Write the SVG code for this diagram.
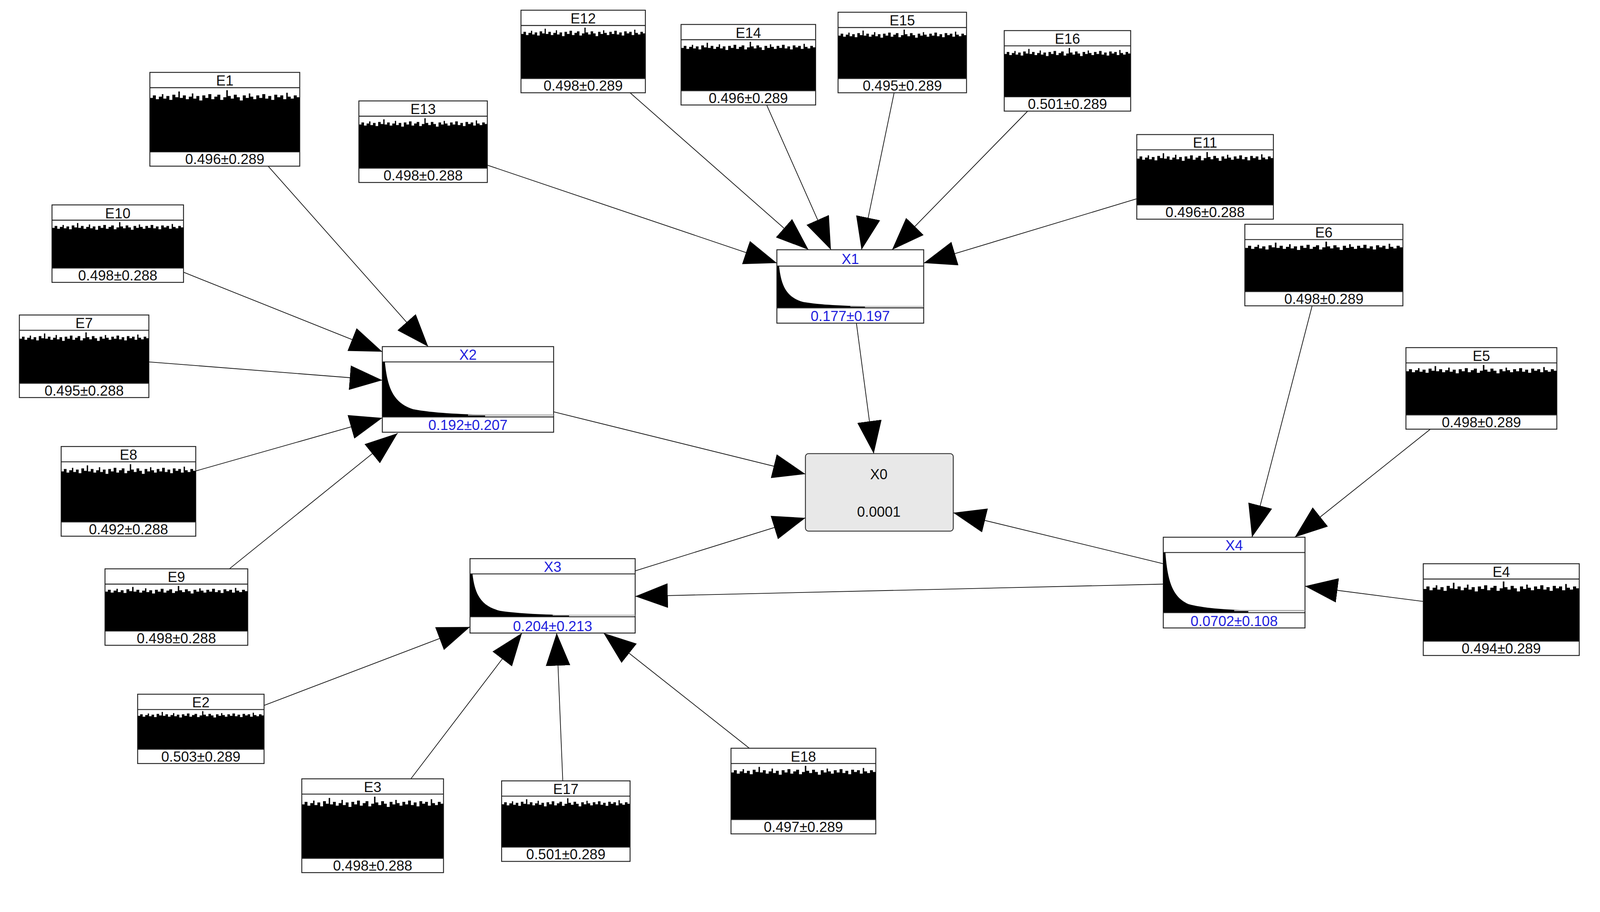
<svg xmlns="http://www.w3.org/2000/svg" width="4205" height="2335" viewBox="0 0 4205 2335">
<style>
.b{fill:#fff;stroke:#222;stroke-width:0.9}
.t{font-family:"Liberation Sans",Arial,sans-serif;font-size:14px;fill:#111;text-anchor:middle}
.x{fill:#2222dd}
.e{stroke:#111;stroke-width:0.7;fill:none;marker-end:url(#ah)}
</style>
<defs>
<marker id="ah" markerUnits="userSpaceOnUse" markerWidth="34" markerHeight="26" refX="32" refY="12" orient="auto" viewBox="0 0 34 24"><path d="M0,0 L32,12 L0,24 Z" fill="#000"/></marker>
<symbol id="u" viewBox="0 0 100 100" preserveAspectRatio="none"><path fill="#000" d="M0,100 V16 H2 V12 H4 V18 H6 V14 H8 V10 H9 V17 H11 V13 H13 V19 H15 V11 H17 V15 H19 V6 H20 V16 H22 V12 H24 V18 H26 V14 H28 V9 H29 V17 H31 V13 H33 V20 H35 V12 H37 V16 H39 V10 H41 V18 H43 V14 H45 V11 H47 V19 H49 V15 H51 V4 H52 V13 H54 V17 H56 V11 H58 V15 H60 V20 H62 V12 H64 V16 H66 V9 H67 V14 H69 V18 H71 V12 H73 V16 H75 V10 H77 V17 H79 V13 H81 V19 H83 V11 H85 V15 H87 V12 H89 V18 H91 V8 H92 V14 H94 V17 H96 V12 H98 V15 H100 V100 Z"/></symbol>
<symbol id="d" viewBox="0 0 100 100" preserveAspectRatio="none"><path fill="#000" d="M0,100 V0 H1.5 C3,50 7,75 18,86 C30,93 45,95 60,96 L60,100 Z"/><path d="M50,96.5 H100" stroke="#aaa" stroke-width="2"/></symbol>
</defs>
<rect width="4205" height="2335" fill="#fff"/>
<g transform="scale(2.61)">
<g id="connectors">
<line class="e" x1="263" y1="163" x2="420" y2="340"/>
<line class="e" x1="180" y1="267" x2="375" y2="345"/>
<line class="e" x1="146" y1="355" x2="375" y2="373"/>
<line class="e" x1="192" y1="462" x2="375" y2="410"/>
<line class="e" x1="225" y1="558" x2="390" y2="425"/>
<line class="e" x1="478" y1="162" x2="762" y2="258"/>
<line class="e" x1="618" y1="91" x2="793" y2="245"/>
<line class="e" x1="752" y1="103" x2="815" y2="245"/>
<line class="e" x1="877" y1="91" x2="845" y2="245"/>
<line class="e" x1="1008" y1="109" x2="875" y2="245"/>
<line class="e" x1="1115" y1="195" x2="906" y2="258"/>
<line class="e" x1="840" y1="317" x2="857" y2="445"/>
<line class="e" x1="543" y1="404" x2="790" y2="465"/>
<line class="e" x1="623" y1="560" x2="790" y2="508"/>
<line class="e" x1="1141" y1="553" x2="935" y2="503"/>
<line class="e" x1="1141" y1="573" x2="623" y2="585"/>
<line class="e" x1="1287" y1="300" x2="1228" y2="527"/>
<line class="e" x1="1403" y1="421" x2="1270" y2="527"/>
<line class="e" x1="1396" y1="590" x2="1280" y2="575"/>
<line class="e" x1="259" y1="692" x2="461" y2="615"/>
<line class="e" x1="403" y1="764" x2="512" y2="621"/>
<line class="e" x1="552" y1="766" x2="546" y2="621"/>
<line class="e" x1="735" y1="734" x2="592" y2="621"/>
</g>
<g id="E1"><rect class="b" x="147" y="71" width="147" height="92"/><line class="b" x1="147" y1="86" x2="294" y2="86"/><use href="#u" x="147" y="86" width="147" height="63"/><line class="b" x1="147" y1="149" x2="294" y2="149"/><text class="t" x="220.5" y="84">E1</text><text class="t" x="220.5" y="161">0.496±0.289</text></g>
<g id="E13"><rect class="b" x="352" y="99" width="126" height="80"/><line class="b" x1="352" y1="114" x2="478" y2="114"/><use href="#u" x="352" y="114" width="126" height="51"/><line class="b" x1="352" y1="165" x2="478" y2="165"/><text class="t" x="415" y="112">E13</text><text class="t" x="415" y="177">0.498±0.288</text></g>
<g id="E12"><rect class="b" x="511" y="10" width="122" height="81"/><line class="b" x1="511" y1="25" x2="633" y2="25"/><use href="#u" x="511" y="25" width="122" height="52"/><line class="b" x1="511" y1="77" x2="633" y2="77"/><text class="t" x="572" y="23">E12</text><text class="t" x="572" y="89">0.498±0.289</text></g>
<g id="E14"><rect class="b" x="668" y="24" width="132" height="79"/><line class="b" x1="668" y1="39" x2="800" y2="39"/><use href="#u" x="668" y="39" width="132" height="50"/><line class="b" x1="668" y1="89" x2="800" y2="89"/><text class="t" x="734" y="37">E14</text><text class="t" x="734" y="101">0.496±0.289</text></g>
<g id="E15"><rect class="b" x="822" y="12" width="126" height="79"/><line class="b" x1="822" y1="27" x2="948" y2="27"/><use href="#u" x="822" y="27" width="126" height="50"/><line class="b" x1="822" y1="77" x2="948" y2="77"/><text class="t" x="885" y="25">E15</text><text class="t" x="885" y="89">0.495±0.289</text></g>
<g id="E16"><rect class="b" x="985" y="30" width="124" height="79"/><line class="b" x1="985" y1="45" x2="1109" y2="45"/><use href="#u" x="985" y="45" width="124" height="50"/><line class="b" x1="985" y1="95" x2="1109" y2="95"/><text class="t" x="1047" y="43">E16</text><text class="t" x="1047" y="107">0.501±0.289</text></g>
<g id="E11"><rect class="b" x="1115" y="132" width="134" height="83"/><line class="b" x1="1115" y1="147" x2="1249" y2="147"/><use href="#u" x="1115" y="147" width="134" height="54"/><line class="b" x1="1115" y1="201" x2="1249" y2="201"/><text class="t" x="1182" y="145">E11</text><text class="t" x="1182" y="213">0.496±0.288</text></g>
<g id="E10"><rect class="b" x="51" y="201" width="129" height="76"/><line class="b" x1="51" y1="216" x2="180" y2="216"/><use href="#u" x="51" y="216" width="129" height="47"/><line class="b" x1="51" y1="263" x2="180" y2="263"/><text class="t" x="115.5" y="214">E10</text><text class="t" x="115.5" y="275">0.498±0.288</text></g>
<g id="E7"><rect class="b" x="19" y="309" width="127" height="81"/><line class="b" x1="19" y1="324" x2="146" y2="324"/><use href="#u" x="19" y="324" width="127" height="52"/><line class="b" x1="19" y1="376" x2="146" y2="376"/><text class="t" x="82.5" y="322">E7</text><text class="t" x="82.5" y="388">0.495±0.288</text></g>
<g id="E8"><rect class="b" x="60" y="438" width="132" height="88"/><line class="b" x1="60" y1="453" x2="192" y2="453"/><use href="#u" x="60" y="453" width="132" height="59"/><line class="b" x1="60" y1="512" x2="192" y2="512"/><text class="t" x="126" y="451">E8</text><text class="t" x="126" y="524">0.492±0.288</text></g>
<g id="E9"><rect class="b" x="103" y="558" width="140" height="75"/><line class="b" x1="103" y1="573" x2="243" y2="573"/><use href="#u" x="103" y="573" width="140" height="46"/><line class="b" x1="103" y1="619" x2="243" y2="619"/><text class="t" x="173" y="571">E9</text><text class="t" x="173" y="631">0.498±0.288</text></g>
<g id="E6"><rect class="b" x="1221" y="220" width="155" height="80"/><line class="b" x1="1221" y1="235" x2="1376" y2="235"/><use href="#u" x="1221" y="235" width="155" height="51"/><line class="b" x1="1221" y1="286" x2="1376" y2="286"/><text class="t" x="1298.5" y="233">E6</text><text class="t" x="1298.5" y="298">0.498±0.289</text></g>
<g id="E5"><rect class="b" x="1379" y="341" width="148" height="80"/><line class="b" x1="1379" y1="356" x2="1527" y2="356"/><use href="#u" x="1379" y="356" width="148" height="51"/><line class="b" x1="1379" y1="407" x2="1527" y2="407"/><text class="t" x="1453" y="354">E5</text><text class="t" x="1453" y="419">0.498±0.289</text></g>
<g id="E4"><rect class="b" x="1396" y="553" width="153" height="90"/><line class="b" x1="1396" y1="568" x2="1549" y2="568"/><use href="#u" x="1396" y="568" width="153" height="61"/><line class="b" x1="1396" y1="629" x2="1549" y2="629"/><text class="t" x="1472.5" y="566">E4</text><text class="t" x="1472.5" y="641">0.494±0.289</text></g>
<g id="E2"><rect class="b" x="135" y="681" width="124" height="68"/><line class="b" x1="135" y1="696" x2="259" y2="696"/><use href="#u" x="135" y="696" width="124" height="39"/><line class="b" x1="135" y1="735" x2="259" y2="735"/><text class="t" x="197" y="694">E2</text><text class="t" x="197" y="747">0.503±0.289</text></g>
<g id="E3"><rect class="b" x="296" y="764" width="139" height="92"/><line class="b" x1="296" y1="779" x2="435" y2="779"/><use href="#u" x="296" y="779" width="139" height="63"/><line class="b" x1="296" y1="842" x2="435" y2="842"/><text class="t" x="365.5" y="777">E3</text><text class="t" x="365.5" y="854">0.498±0.288</text></g>
<g id="E17"><rect class="b" x="492" y="766" width="126" height="79"/><line class="b" x1="492" y1="781" x2="618" y2="781"/><use href="#u" x="492" y="781" width="126" height="50"/><line class="b" x1="492" y1="831" x2="618" y2="831"/><text class="t" x="555" y="779">E17</text><text class="t" x="555" y="843">0.501±0.289</text></g>
<g id="E18"><rect class="b" x="717" y="734" width="142" height="84"/><line class="b" x1="717" y1="749" x2="859" y2="749"/><use href="#u" x="717" y="749" width="142" height="55"/><line class="b" x1="717" y1="804" x2="859" y2="804"/><text class="t" x="788" y="747">E18</text><text class="t" x="788" y="816">0.497±0.289</text></g>
<g id="X1"><rect class="b" x="762" y="245" width="144" height="72"/><line class="b" x1="762" y1="261" x2="906" y2="261"/><use href="#d" x="762" y="261" width="144" height="41"/><line class="b" x1="762" y1="302" x2="906" y2="302"/><text class="t x" x="834" y="259">X1</text><text class="t x" x="834" y="315">0.177±0.197</text></g>
<g id="X2"><rect class="b" x="375" y="340" width="168" height="84"/><line class="b" x1="375" y1="355" x2="543" y2="355"/><use href="#d" x="375" y="355" width="168" height="54"/><line class="b" x1="375" y1="409" x2="543" y2="409"/><text class="t x" x="459" y="353">X2</text><text class="t x" x="459" y="422">0.192±0.207</text></g>
<g id="X3"><rect class="b" x="461" y="548" width="162" height="73"/><line class="b" x1="461" y1="563" x2="623" y2="563"/><use href="#d" x="461" y="563" width="162" height="42"/><line class="b" x1="461" y1="605" x2="623" y2="605"/><text class="t x" x="542" y="561">X3</text><text class="t x" x="542" y="619">0.204±0.213</text></g>
<g id="X4"><rect class="b" x="1141" y="527" width="139" height="89"/><line class="b" x1="1141" y1="542" x2="1280" y2="542"/><use href="#d" x="1141" y="542" width="139" height="59"/><line class="b" x1="1141" y1="601" x2="1280" y2="601"/><text class="t x" x="1210.5" y="540">X4</text><text class="t x" x="1210.5" y="614">0.0702±0.108</text></g>
<g id="X0"><rect x="790" y="445" width="145" height="76" rx="3" fill="#e8e8e8" stroke="#333" stroke-width="0.9"/><text class="t" x="862" y="470">X0</text><text class="t" x="862" y="507">0.0001</text></g>
</g>
</svg>
